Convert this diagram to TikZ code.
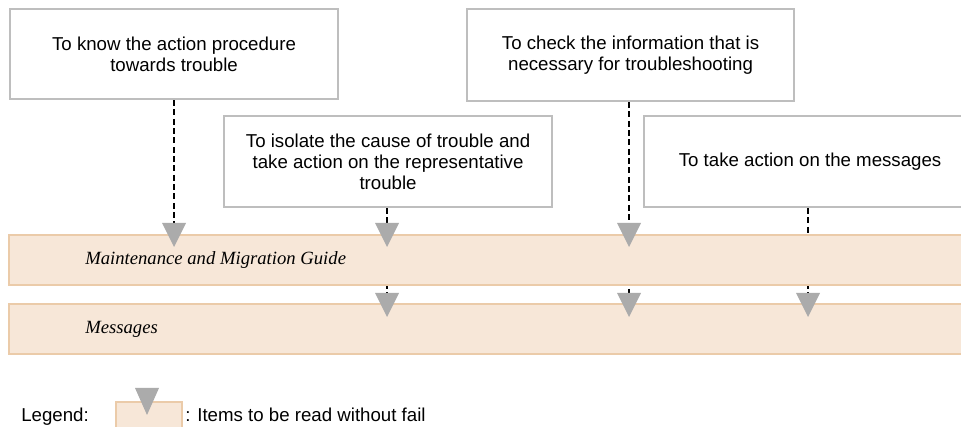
\documentclass[tikz,border=0pt]{standalone}
\usepackage{fontspec}
\usetikzlibrary{calc}
\setmainfont{Liberation Serif}
\newfontfamily\boxfont{Liberation Sans}
\definecolor{boxline}{HTML}{BEBEBE}
\definecolor{bandfill}{HTML}{F7E7D8}
\definecolor{bandline}{HTML}{EBCBA9}
\definecolor{marker}{HTML}{ABABAB}
\begin{document}
\begin{tikzpicture}[x=0.75pt,y=-0.75pt,
  txt/.style={font=\boxfont\fontsize{14}{15.75}\selectfont, text=black},
  purpose/.style={txt, draw=boxline, line width=1.6pt, fill=white,
    align=center, inner sep=0pt, anchor=north west},
  band/.style={draw=bandline, line width=1.5pt, fill=bandfill},
  booktitle/.style={font=\itshape\fontsize{14}{15.75}\selectfont, anchor=west, inner sep=0pt},
  readlink/.style={line width=1.2pt, dash pattern=on 4.5pt off 2.5pt},
  marktri/.style={fill=marker}]
\useasboundingbox (0,0) rectangle (961,427);
\clip (0,0) rectangle (961,427);

% purpose boxes
\node[purpose, minimum width=246pt, minimum height=67.5pt] (know) at (9,8)
  {To know the action procedure\\towards trouble};
\node[purpose, minimum width=246pt, minimum height=68.25pt] (isolate) at (223,115)
  {To isolate the cause of trouble and\\take action on the representative\\trouble};
\node[purpose, minimum width=245.25pt, minimum height=69pt] (check) at (466,8)
  {To check the information that is\\necessary for troubleshooting};
\node[purpose, minimum width=249pt, minimum height=68.25pt] (msgact) at (643,115)
  {To take action on the messages};

% marker positions (top centre of each triangle)
\coordinate (m1a) at (174,223);
\coordinate (m2a) at (387,223);
\coordinate (m3a) at (629,223);
\coordinate (m2b) at (387,293);
\coordinate (m3b) at (629,293);
\coordinate (m4b) at (808,293);

% dashed reading paths
\draw[readlink] (know.south -| m1a) -- (m1a);
\draw[readlink] (isolate.south -| m2a) -- (m2b);
\draw[readlink] (check.south -| m3a) -- (m3b);
\draw[readlink] (msgact.south -| m4b) -- (m4b);

% manual bands
\draw[band] (9,235) rectangle (975,285);
\node[booktitle] (guide) at (85,260) {Maintenance and Migration Guide};
\draw[band] (9,304) rectangle (975,354);
\node[booktitle] (messages) at (85,329) {Messages};

% "read without fail" markers
\foreach \m in {m1a,m2a,m3a,m2b,m3b,m4b}
  \fill[marktri] ($(\m)+(-12,0)$) -- ($(\m)+(12,0)$) -- ($(\m)+(0,24)$) -- cycle;

% legend
\node[txt, anchor=base west, inner sep=0pt] (legend) at (21,422) {Legend:};
\draw[band] (116,402) rectangle (182,440);
\coordinate (lm) at (147,388);
\fill[marktri] ($(lm)+(-12,0)$) -- ($(lm)+(12,0)$) -- ($(lm)+(0,27)$) -- cycle;
\node[txt, anchor=base west, inner sep=0pt] (legtext) at (185,422) {: Items to be read without fail};
\end{tikzpicture}
\end{document}
